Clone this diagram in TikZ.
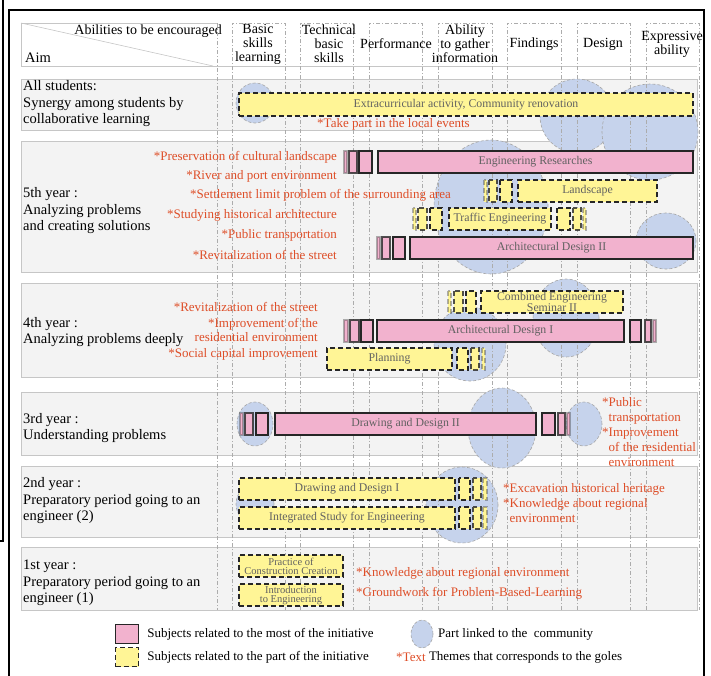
\documentclass[tikz,border=0pt]{standalone}
\usepackage{fontspec}
\setmainfont{Liberation Serif}
\usetikzlibrary{positioning}
\definecolor{subpink}{RGB}{242,178,206}
\definecolor{subyellow}{RGB}{255,245,150}
\definecolor{linkblue}{RGB}{198,211,236}
\definecolor{themered}{RGB}{222,78,40}
\definecolor{bandgray}{RGB}{243,243,243}
\tikzset{
band/.style={draw=gray!45,fill=bandgray,line width=0.6pt},
colline/.style={draw=gray!65,line width=0.4pt,dash pattern=on 4pt off 2pt on 1pt off 2pt},
most/.style={draw=black!85,line width=1.3pt,fill=subpink,inner sep=0pt,text=black!62,
font=\fontsize{11.8}{11}\selectfont},
part/.style={draw=black!85,line width=1.5pt,dash pattern=on 5pt off 3pt,fill=subyellow,
inner sep=0pt,text=black!62,font=\fontsize{11.8}{11}\selectfont},
linked/.style={draw=gray!70,fill=linkblue,line width=0.6pt,dash pattern=on 3pt off 2pt},
aim/.style={anchor=west,align=left,inner sep=0pt,font=\fontsize{14.5}{16.5}\selectfont},
head/.style={align=center,inner sep=0pt,font=\fontsize{14}{14}\selectfont},
theme/.style={text=themered,inner sep=0pt,font=\fontsize{13}{14.8}\selectfont},
key/.style={anchor=west,inner sep=0pt,font=\fontsize{13}{14}\selectfont}
}

\begin{document}
\begin{tikzpicture}[x=1pt,y=-1pt]
\useasboundingbox (0,0) rectangle (711,675);

% frame
\draw[line width=1.2pt] (9,10) rectangle (704,680);
\draw[line width=1.2pt] (3,0) -- (3,541) -- (0,541);

% header
\draw[gray!45,line width=0.6pt] (217,23) -- (21,23) -- (21,66) -- (697,66);
\draw[gray!45,line width=0.6pt] (21,23) -- (213,66);
\node[head,anchor=east] (abil) at (222,31) {Abilities to be encouraged};
\node[aim] (aimlabel) at (25,58) {Aim};

% rows
\draw[band] (21,79) rectangle (697,130);
\draw[band] (21,141) rectangle (697,272);
\draw[band] (21,283) rectangle (697,377);
\draw[band] (21,392) rectangle (697,455);
\draw[band] (21,466) rectangle (697,537);
\draw[band] (21,547) rectangle (697,610);

% parts linked to the community
\draw[linked] (255,103) ellipse [x radius=19pt,y radius=20pt];
\draw[linked] (577,116) ellipse [x radius=37pt,y radius=37pt];
\draw[linked] (650,132) ellipse [x radius=48pt,y radius=48pt];
\draw[linked] (491,207) ellipse [x radius=57pt,y radius=67pt];
\draw[linked] (666,241) ellipse [x radius=30pt,y radius=28pt];
\draw[linked] (566,318) ellipse [x radius=33pt,y radius=39pt];
\draw[linked] (470,344) ellipse [x radius=36pt,y radius=37pt];
\draw[linked] (255,424) ellipse [x radius=18pt,y radius=22pt];
\draw[linked] (502,428) ellipse [x radius=34pt,y radius=40pt];
\draw[linked] (584,424) ellipse [x radius=18pt,y radius=22pt];
\draw[linked] (255,504) ellipse [x radius=19pt,y radius=20pt];
\draw[linked] (462,505) ellipse [x radius=36pt,y radius=38pt];

% columns
\draw[colline] (217,23) -- (217,610);
\foreach \xa/\xb in {232/285,300/353,369/422,438/492,507/561,577/630,646/699}
  \draw[colline] (\xa,610) -- (\xa,23) -- (\xb,23) -- (\xb,610);
\node[head] (hbasic) at (258,44) {Basic\\skills\\learning};
\node[head] (htech) at (329,44) {Technical\\basic\\skills};
\node[head] (hperf) at (396,44) {Performance};
\node[head] (hgather) at (465,44) {Ability\\to gather\\information};
\node[head] (hfind) at (534,44) {Findings};
\node[head] (hdesign) at (603,44) {Design};
\node[head] (hexpr) at (672,44) {Expressive\\ability};

% subjects
\node[part,minimum width=454pt,minimum height=23pt] (extra) at (466,104.5)
  {Extracurricular activity, Community renovation};

\node[most,minimum width=315pt,minimum height=22pt] (engres) at (535.5,162) {Engineering Researches};
\foreach \a/\b/\o in {344/347/.35,349/357/.8,359/372/1}
  \draw[most,draw opacity=\o] (\a,151) rectangle (\b,173);
\node[part,minimum width=139pt,minimum height=22pt] (landsc) at (587.5,191) {Landscape};
\foreach \a/\b/\o in {484/487/.35,489/497/.8,500/512/1}
  \draw[part,draw opacity=\o] (\a,180) rectangle (\b,202);
\node[part,minimum width=102pt,minimum height=22pt] (traffic) at (500,219) {Traffic Engineering};
\foreach \a/\b/\o in {413/416/.35,418/427/.8,430/442/1,557/570/1,573/581/.8,583/586/.35}
  \draw[part,draw opacity=\o] (\a,208) rectangle (\b,230);
\node[most,minimum width=283pt,minimum height=22pt] (archII) at (551.5,248) {Architectural Design II};
\foreach \a/\b/\o in {377/380/.35,382/390/.8,393/405/1}
  \draw[most,draw opacity=\o] (\a,237) rectangle (\b,259);

\node[part,minimum width=142pt,minimum height=22pt,align=center,
  font=\fontsize{11.8}{10}\selectfont] (combsem) at (552,302) {Combined Engineering\\Seminar II};
\foreach \a/\b/\o in {448/451/.35,454/463/.8,466/476/1}
  \draw[part,draw opacity=\o] (\a,291) rectangle (\b,313);
\node[most,minimum width=247pt,minimum height=22pt] (archI) at (500.5,331) {Architectural Design I};
\foreach \a/\b/\o in {344/348/.35,350/359/.8,361/373/1,630/641/1,645/651/.8,653/656/.35}
  \draw[most,draw opacity=\o] (\a,320) rectangle (\b,342);
\node[part,minimum width=125pt,minimum height=22pt] (plan) at (389.5,359) {Planning};
\foreach \a/\b/\o in {457/468/1,471/479/.8,482/485/.35}
  \draw[part,draw opacity=\o] (\a,348) rectangle (\b,370);

\node[most,minimum width=261pt,minimum height=22pt] (drawII) at (405.5,424) {Drawing and Design II};
\foreach \a/\b/\o in {240/243/.35,245/253/.8,256/268/1,542/555/1,558/565/.8,567/570/.35}
  \draw[most,draw opacity=\o] (\a,413) rectangle (\b,435);

\node[part,minimum width=216pt,minimum height=22pt] (drawI) at (347,489) {Drawing and Design I};
\node[part,minimum width=216pt,minimum height=22pt] (integ) at (347,518) {Integrated Study for Engineering};
\foreach \a/\b/\o in {459/470/1,473/481/.8,483/487/.35} {
  \draw[part,draw opacity=\o] (\a,478) rectangle (\b,500);
  \draw[part,draw opacity=\o] (\a,507) rectangle (\b,529);
}

\node[part,minimum width=104pt,minimum height=22pt,align=center,
  font=\fontsize{10.5}{9}\selectfont] (practice) at (291,566) {Practice of\\Construction Creation};
\node[part,minimum width=104pt,minimum height=22pt,align=center,
  font=\fontsize{10.5}{9}\selectfont] (intro) at (291,595) {Introduction\\to Engineering};

% aims
\node[aim] (allst) at (23,104) {All students:\\Synergy among students by\\collaborative learning};
\node[aim] (fifth) at (23,211) {5th year :\\Analyzing problems\\and creating solutions};
\node[aim] (fourth) at (23,332) {4th year :\\Analyzing problems deeply};
\node[aim] (third) at (23,428) {3rd year :\\Understanding problems};
\node[aim] (second) at (23,501) {2nd year :\\Preparatory period going to an\\engineer (2)};
\node[aim] (first) at (23,583) {1st year :\\Preparatory period going to an\\engineer (1)};

% themes
\node[theme,anchor=west] (tlocal) at (317,124) {*Take part in the local events};
\node[theme,anchor=east] (tpres) at (337,157) {*Preservation of cultural landscape};
\node[theme,anchor=east] (triver) at (337,176) {*River and port environment};
\node[theme,anchor=west] (tsettle) at (190,195) {*Settlement limit problem of the surrounding area};
\node[theme,anchor=east] (thist) at (337,215) {*Studying historical architecture};
\node[theme,anchor=east] (tpublic) at (337,235) {*Public transportation};
\node[theme,anchor=east] (trevit) at (337,255) {*Revitalization of the street};
\node[theme,anchor=east] (trevitb) at (318,307) {*Revitalization of the street};
\node[theme,anchor=east,align=right] (timprov) at (318,330) {*Improvement of the\\residential environment};
\node[theme,anchor=east] (tsocial) at (318,354) {*Social capital improvement};
\node[theme,anchor=west,align=left] (tpubimp) at (602,432)
  {*Public\\\phantom{*}transportation\\*Improvement\\\phantom{*}of the residential\\\phantom{*}environment};
\node[theme,anchor=west,align=left] (texcav) at (503,503)
  {*Excavation historical heritage\\*Knowledge about regional\\\phantom{*}environment};
\node[theme,anchor=west] (tknow) at (356,573) {*Knowledge about regional environment};
\node[theme,anchor=west] (tground) at (356,593) {*Groundwork for Problem-Based-Learning};

% legend
\node[most,minimum width=23pt,minimum height=19pt] (keymost) at (127,634) {};
\node[key,right=8pt of keymost] (keymosttxt) {Subjects related to the most of the initiative};
\node[part,minimum width=23pt,minimum height=19pt] (keypart) at (127,657) {};
\node[key,right=8pt of keypart] (keyparttxt) {Subjects related to the part of the initiative};
\draw[linked] (422,634) ellipse [x radius=11pt,y radius=14pt];
\coordinate (keylink) at (433,634);
\node[key,right=5pt of keylink] (keylinktxt) {Part linked to the \ community};
\node[theme,anchor=west] (keystar) at (396,657) {*Text};
\node[key,right=3pt of keystar] (keythemetxt) {Themes that corresponds to the goles};

\end{tikzpicture}
\end{document}
